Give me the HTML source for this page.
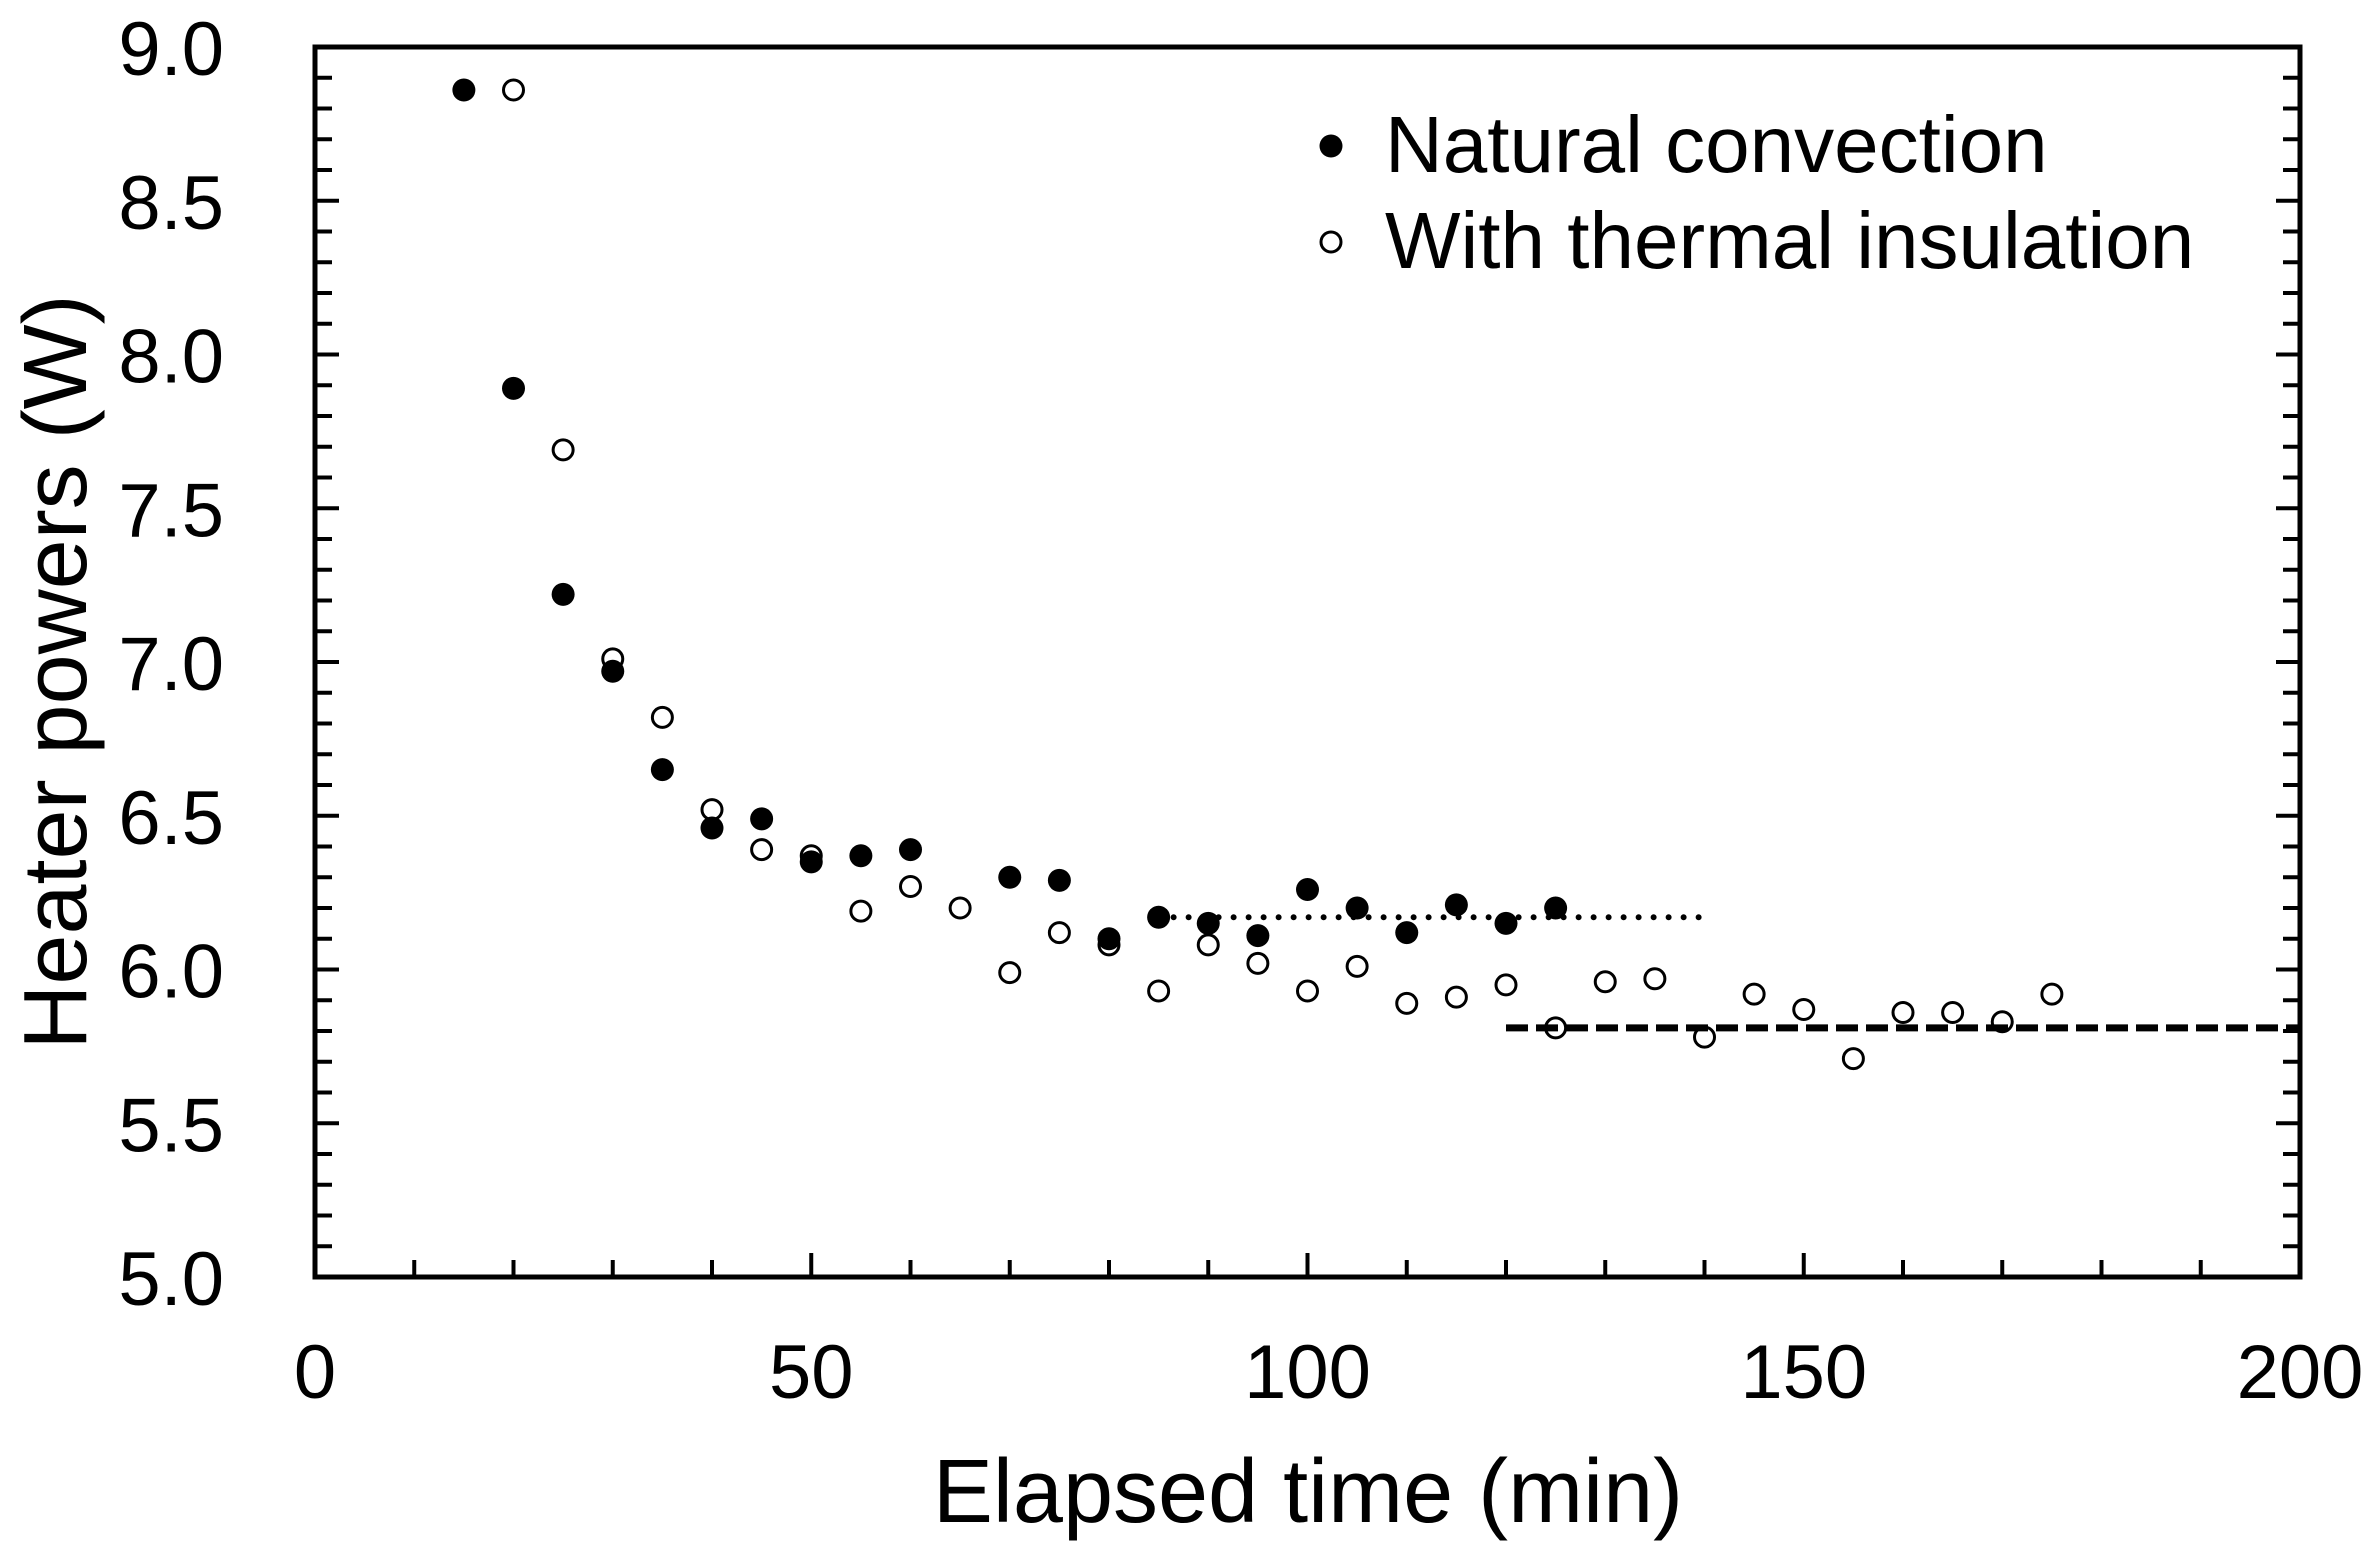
<!DOCTYPE html>
<html><head><meta charset="utf-8"><style>
html,body{margin:0;padding:0;background:#fff;}
svg{display:block;font-family:"Liberation Sans",Arial,sans-serif;}
</style></head><body>
<svg id="chart" width="2374" height="1548" viewBox="0 0 2374 1548" xmlns="http://www.w3.org/2000/svg">
<g id="axes"></g>
<g id="marks"></g>
<text x="1308" y="1522" font-size="90" text-anchor="middle">Elapsed time (min)</text>
<text transform="translate(86,672) rotate(-90)" font-size="90" text-anchor="middle">Heater powers (W)</text>
<g>
<circle cx="1331" cy="146" r="11.5" fill="#000"/>
<text x="1385" y="172" font-size="80">Natural convection</text>
<circle cx="1331" cy="242" r="10" fill="#fff" stroke="#000" stroke-width="3"/>
<text x="1385" y="268" font-size="80">With thermal insulation</text>
</g>
</svg>
<script>
const natX = [15,20,25,30,35,40,45,50,55,60,70,75,80,85,90,95,100,105,110,115,120,125];
const natY = [8.86,7.89,7.22,6.97,6.65,6.46,6.49,6.35,6.37,6.39,6.30,6.29,6.10,6.17,6.15,6.11,6.26,6.20,6.12,6.21,6.15,6.20];
const insX = [20,25,30,35,40,45,50,55,60,65,70,75,80,85,90,95,100,105,110,115,120,125,130,135,140,145,150,155,160,165,170,175];
const insY = [8.86,7.69,7.01,6.82,6.52,6.39,6.37,6.19,6.27,6.20,5.99,6.12,6.08,5.93,6.08,6.02,5.93,6.01,5.89,5.91,5.95,5.81,5.96,5.97,5.78,5.92,5.87,5.71,5.86,5.86,5.83,5.92];
const natFit = [85,140,6.17];
const insFit = [120,200,5.81];
const xTicks = ["0","50","100","150","200"];
const yTicks = ["5.0","5.5","6.0","6.5","7.0","7.5","8.0","8.5","9.0"];

const L=315,R=2300,T=47,B=1277;
const X0=0,X1=200,Y0=5,Y1=9;
const sx=v=>L+(v-X0)/(X1-X0)*(R-L);
const sy=v=>B-(v-Y0)/(Y1-Y0)*(B-T);
const NS="http://www.w3.org/2000/svg";
function mk(tag,attrs,parent){const e=document.createElementNS(NS,tag);for(const k in attrs)e.setAttribute(k,attrs[k]);parent.appendChild(e);return e;}
const axes=document.getElementById('axes'), marks=document.getElementById('marks');

const frame=mk('rect',{x:L,y:T,width:R-L,height:B-T,fill:'none',stroke:'#000','stroke-width':5},axes);



for(let i=1;i<20;i++){
  const v=i*10, x=sx(v), len=(v%50===0)?24:17;
  const t=mk('line',{x1:x,x2:x,y1:B,y2:B-len,stroke:'#000','stroke-width':4},axes);
  
  
}
xTicks.forEach(s=>{
  const t=mk('text',{x:sx(+s),y:1398,'font-size':76,'text-anchor':'middle'},axes);
  t.textContent=s;
  
  
});
for(let i=1;i<40;i++){
  const y=sy(Y0+i*0.1), len=(i%5===0)?24:17;
  const a=mk('line',{x1:L,x2:L+len,y1:y,y2:y,stroke:'#000','stroke-width':4},axes);
  
  
  const b=mk('line',{x1:R,x2:R-len,y1:y,y2:y,stroke:'#000','stroke-width':4},axes);
  
  
}
yTicks.forEach(s=>{
  const t=mk('text',{x:224,y:sy(+s)+28,'font-size':76,'text-anchor':'end'},axes);
  t.textContent=s;
  
  
});

const f1=mk('line',{x1:sx(natFit[0]),x2:sx(natFit[1]),y1:sy(natFit[2]),y2:sy(natFit[2]),stroke:'#000','stroke-width':6,'stroke-dasharray':'0 15','stroke-linecap':'round'},marks);


const f2=mk('line',{x1:sx(insFit[0]),x2:sx(insFit[1]),y1:sy(insFit[2]),y2:sy(insFit[2]),stroke:'#000','stroke-width':7,'stroke-dasharray':'22 8'},marks);



natX.forEach((v,i)=>{
  const c=mk('circle',{cx:sx(v),cy:sy(natY[i]),r:11.5,fill:'#000'},marks);
  
  
});
insX.forEach((v,i)=>{
  const c=mk('circle',{cx:sx(v),cy:sy(insY[i]),r:10,fill:'none',stroke:'#000','stroke-width':3},marks);
  
  
});
</script>
</body></html>
